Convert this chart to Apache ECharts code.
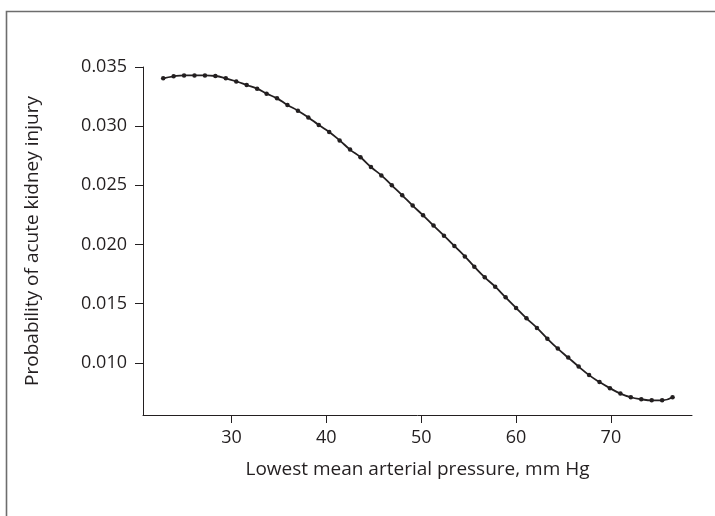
<!DOCTYPE html>
<html>
<head>
<meta charset="utf-8">
<script src="https://cdn.jsdelivr.net/npm/echarts@6/dist/echarts.min.js"></script>
<style>html,body{margin:0;padding:0;background:#fff}#c{width:715px;height:516px}</style>
</head>
<body>
<div id="c"></div>
<script>
const pressure = [22.8, 23.9, 25.0, 26.1, 27.2, 28.3, 29.4, 30.5, 31.6, 32.7, 33.7, 34.8, 35.9, 37.0, 38.1, 39.2, 40.3, 41.4, 42.5, 43.6, 44.7, 45.8, 46.9, 48.0, 49.1, 50.2, 51.3, 52.4, 53.5, 54.6, 55.6, 56.7, 57.8, 58.9, 60.0, 61.1, 62.2, 63.3, 64.4, 65.5, 66.6, 67.7, 68.8, 69.9, 71.0, 72.1, 73.2, 74.3, 75.4, 76.5];
const probability = [0.03404, 0.03421, 0.03429, 0.03429, 0.03429, 0.03424, 0.03404, 0.03378, 0.03348, 0.03317, 0.03275, 0.03235, 0.03179, 0.03131, 0.03074, 0.03010, 0.02951, 0.02880, 0.02802, 0.02737, 0.02655, 0.02584, 0.02500, 0.02416, 0.02329, 0.02247, 0.02160, 0.02075, 0.01988, 0.01900, 0.01813, 0.01723, 0.01644, 0.01554, 0.01465, 0.01377, 0.01296, 0.01205, 0.01121, 0.01045, 0.00969, 0.00897, 0.00838, 0.00787, 0.00741, 0.00710, 0.00693, 0.00684, 0.00684, 0.00710];
const xTicks = [30, 40, 50, 60, 70];
const yTicks = [0.010, 0.015, 0.020, 0.025, 0.030, 0.035];
const xTitle = 'Lowest mean arterial pressure, mm Hg';
const yTitle = 'Probability of acute kidney injury';

const ink = '#231f20';
const font = '"Open Sans", "Noto Sans", sans-serif';
const chart = echarts.init(document.getElementById('c'), null, {renderer: 'canvas'});
chart.setOption({
  animation: false,
  backgroundColor: '#fff',
  grid: {left: 143, right: 23, top: 67, bottom: 101, containLabel: false},
  xAxis: {
    type: 'value', min: 20.67, max: 78.55,
    axisLine: {show: true, lineStyle: {color: ink, width: 1}},
    axisTick: {show: true, length: 8, inside: false, customValues: xTicks, lineStyle: {color: ink}},
    axisLabel: {customValues: xTicks, margin: 14, color: ink, fontSize: 18, fontFamily: font},
    splitLine: {show: false},
    name: xTitle, nameLocation: 'middle', nameGap: 45,
    nameTextStyle: {color: ink, fontSize: 19, fontFamily: font}
  },
  yAxis: {
    type: 'value', min: 0.0056, max: 0.035,
    axisLine: {show: true, lineStyle: {color: ink, width: 1}},
    axisTick: {show: true, length: 8, inside: false, customValues: yTicks, lineStyle: {color: ink}},
    axisLabel: {customValues: yTicks, margin: 16, color: ink, fontSize: 18, fontFamily: font,
      formatter: v => v.toFixed(3)},
    splitLine: {show: false},
    name: yTitle, nameLocation: 'middle', nameGap: 101, nameRotate: 90,
    nameTextStyle: {color: ink, fontSize: 19, fontFamily: font}
  },
  series: [{
    type: 'line',
    data: pressure.map((x, i) => [x, probability[i]]),
    smooth: true,
    symbol: 'circle', symbolSize: 4.5, showSymbol: true,
    lineStyle: {color: ink, width: 1.8},
    itemStyle: {color: ink}
  }],
  graphic: [{
    type: 'polyline',
    shape: {points: [[6.5, 516], [6.5, 11.5], [715, 11.5]]},
    style: {stroke: '#6d6d6d', lineWidth: 1.6, fill: null}
  }]
});
</script>
</body>
</html>
